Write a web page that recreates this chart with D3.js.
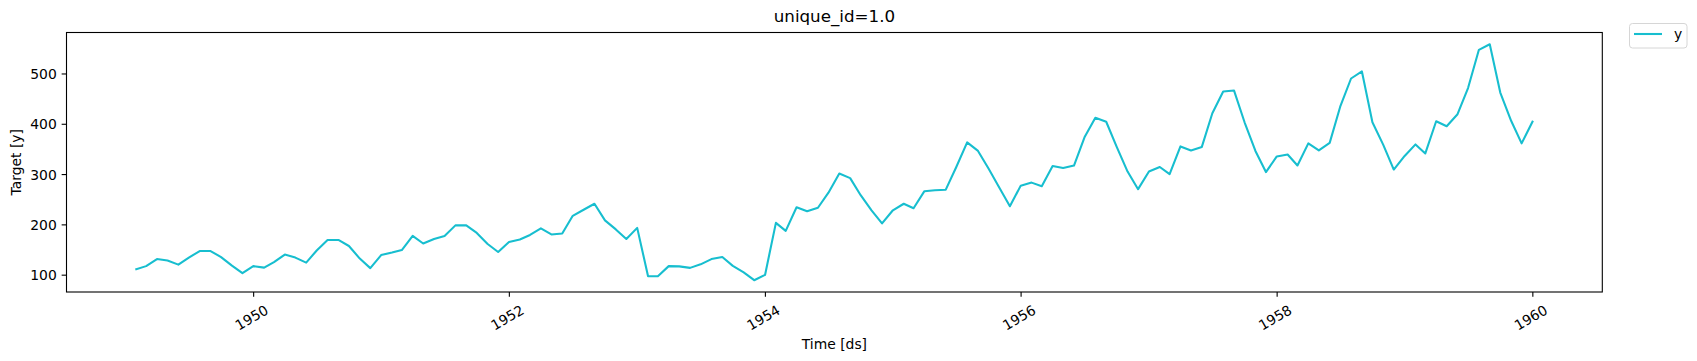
<!DOCTYPE html>
<html>
<head>
<meta charset="utf-8">
<script src="https://cdn.jsdelivr.net/npm/d3@7"></script>
<style>
  html, body { margin: 0; padding: 0; background: #fff; }
  svg { display: block; font-family: "DejaVu Sans", sans-serif; }
</style>
</head>
<body>
<svg id="chart" width="1697" height="361"></svg>
<script>
// ---- data ----
const seriesName = "y";
const title = "unique_id=1.0";
const xLabel = "Time [ds]";
const yLabel = "Target [y]";
const startYear = 1949;           // first month-end: 1949-01-31
const values = [
  112, 118, 132, 129, 121, 135, 148, 148, 136, 119, 104, 118,
  115, 126, 141, 135, 125, 149, 170, 170, 158, 133, 114, 140,
  145, 150, 178, 163, 172, 178, 199, 199, 184, 162, 146, 166,
  171, 180, 193, 181, 183, 218, 230, 242, 209, 191, 172, 194,
  98, 98, 118, 117.5, 114.5, 121.5, 132, 136, 118.5, 105.5, 90, 100.5,
  204, 188, 235, 227, 234, 264, 302, 293, 259, 229, 203, 229,
  242, 233, 267, 269, 270, 315, 364, 347, 312, 274, 237, 278,
  284, 277, 317, 313, 318, 374, 413, 405, 355, 306, 271, 306,
  315, 301, 356, 348, 355, 422, 465, 467, 404, 347, 305, 336,
  340, 318, 362, 348, 363, 435, 491, 505, 404, 359, 310, 337,
  360, 342, 406, 396, 420, 472, 548, 559, 463, 407, 362, 405
];
const xTickYears = [1950, 1952, 1954, 1956, 1958, 1960];
const yTicks = [100, 200, 300, 400, 500];

// month-end dates
const data = values.map((v, i) => ({
  ds: new Date(Date.UTC(startYear, i + 1, 0)),
  y: v
}));

// ---- layout ----
const svg = d3.select("#chart");
const L = 66.5, R = 1602.3, T = 32.5, B = 292;
const color = "#17becf";

const xMin = d3.min(data, d => +d.ds), xMax = d3.max(data, d => +d.ds);
const xPad = (xMax - xMin) * 0.05;
const x = d3.scaleUtc().domain([new Date(xMin - xPad), new Date(xMax + xPad)]).range([L, R]);
const yMin = d3.min(data, d => d.y), yMax = d3.max(data, d => d.y);
const yPad = (yMax - yMin) * 0.05;
const y = d3.scaleLinear().domain([yMin - yPad, yMax + yPad]).range([B, T]);

// line
svg.append("path")
  .datum(data)
  .attr("fill", "none")
  .attr("stroke", color)
  .attr("stroke-width", 2.08)
  .attr("stroke-linejoin", "round")
  .attr("stroke-linecap", "square")
  .attr("d", d3.line().x(d => x(d.ds)).y(d => y(d.y)));

// frame
svg.append("rect")
  .attr("x", L).attr("y", T).attr("width", R - L).attr("height", B - T)
  .attr("fill", "none").attr("stroke", "#000").attr("stroke-width", 1.1);

// x ticks
const xt = svg.append("g");
xTickYears.forEach(yr => {
  const px = x(new Date(Date.UTC(yr, 0, 1)));
  xt.append("line").attr("x1", px).attr("x2", px).attr("y1", B).attr("y2", B + 4.86)
    .attr("stroke", "#000").attr("stroke-width", 1.1);
  xt.append("text")
    .attr("transform", `translate(${px - 2},${317.5}) rotate(-30)`)
    .attr("text-anchor", "middle").attr("dominant-baseline", "central")
    .attr("font-size", 13.9).attr("fill", "#000")
    .text(yr);
});

// y ticks
const yt = svg.append("g");
yTicks.forEach(v => {
  const py = y(v);
  yt.append("line").attr("x1", L - 4.86).attr("x2", L).attr("y1", py).attr("y2", py)
    .attr("stroke", "#000").attr("stroke-width", 1.1);
  yt.append("text")
    .attr("x", L - 9.7).attr("y", py)
    .attr("text-anchor", "end").attr("dominant-baseline", "central")
    .attr("font-size", 13.9).attr("fill", "#000")
    .text(v);
});

// labels
svg.append("text").attr("x", (L + R) / 2).attr("y", 349)
  .attr("text-anchor", "middle").attr("font-size", 13.9).text(xLabel);
svg.append("text").attr("transform", `translate(21,${(T + B) / 2}) rotate(-90)`)
  .attr("text-anchor", "middle").attr("font-size", 13.9).text(yLabel);
svg.append("text").attr("x", (L + R) / 2).attr("y", 22)
  .attr("text-anchor", "middle").attr("font-size", 16.7).text(title);

// legend
const lg = svg.append("g");
lg.append("rect").attr("x", 1629.5).attr("y", 23.5).attr("width", 57.5).attr("height", 24.5)
  .attr("rx", 3).attr("fill", "#fff").attr("fill-opacity", 0.8)
  .attr("stroke", "#d6d6d6").attr("stroke-width", 1);
lg.append("line").attr("x1", 1634).attr("x2", 1662).attr("y1", 34).attr("y2", 34)
  .attr("stroke", color).attr("stroke-width", 2.08);
lg.append("text").attr("x", 1674).attr("y", 34).attr("dominant-baseline", "central")
  .attr("font-size", 13.9).text(seriesName);
</script>
</body>
</html>
